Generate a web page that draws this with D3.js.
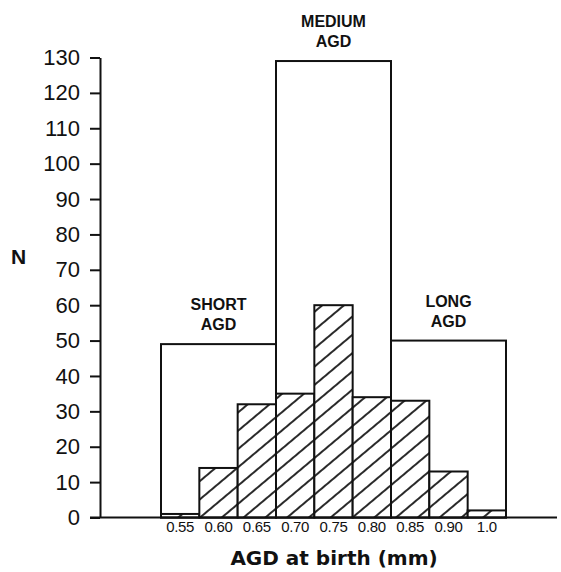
<!DOCTYPE html>
<html>
<head>
<meta charset="utf-8">
<script src="https://cdn.jsdelivr.net/npm/d3@7"></script>
<style>
body { margin: 0; background: #fff; }
text { font-family: "Liberation Sans", Arial, sans-serif; fill: #111; }
</style>
</head>
<body>
<script>
var w = 561, h = 572;

// bins of AGD at birth (mm) and number of animals
var bins = ["0.55", "0.60", "0.65", "0.70", "0.75", "0.80", "0.85", "0.90", "1.0"];
var counts = [1, 14, 32, 35, 60, 34, 33, 13, 2];

// groups: first bin, last bin, total
var groupNames = ["SHORT", "MEDIUM", "LONG"];
var groupFirst = ["0.55", "0.70", "0.85"];
var groupLast = ["0.65", "0.80", "1.0"];
var groupTotals = [49, 129, 50];

var yTicks = d3.range(0, 131, 10);

var svg = d3.select("body").append("svg")
	.attr("width", w)
	.attr("height", h);

var defs = svg.append("defs");
var pat = defs.append("pattern")
	.attr("id", "hatch")
	.attr("patternUnits", "userSpaceOnUse")
	.attr("width", 14)
	.attr("height", 14)
	.attr("patternTransform", "rotate(-40)");
pat.append("rect").attr("width", 14).attr("height", 14).attr("fill", "#fff");
pat.append("line")
	.attr("x1", 0).attr("y1", 7).attr("x2", 14).attr("y2", 7)
	.attr("stroke", "#111").attr("stroke-width", 1.8);

var x = d3.scaleBand()
	.domain(bins)
	.range([161, 506])
	.padding(0);

var y = d3.scaleLinear()
	.domain([0, 130])
	.range([517.5, 57.5]);

function groupMid(i) {
	return x(groupFirst[i]) + (x(groupLast[i]) + x.bandwidth() - x(groupFirst[i])) / 2;
}

// group outlines
svg.selectAll(".grp")
	.data(groupNames)
	.enter()
	.append("rect")
	.attr("class", "grp")
	.attr("x", function(d, i) { return x(groupFirst[i]); })
	.attr("width", function(d, i) { return x(groupLast[i]) + x.bandwidth() - x(groupFirst[i]); })
	.attr("y", function(d, i) { return y(groupTotals[i]); })
	.attr("height", function(d, i) { return y(0) - y(groupTotals[i]); })
	.style("fill", "#fff")
	.style("stroke", "#111")
	.style("stroke-width", 2);

// hatched bars
svg.selectAll(".bar")
	.data(counts)
	.enter()
	.append("rect")
	.attr("class", "bar")
	.attr("x", function(d, i) { return x(bins[i]); })
	.attr("width", x.bandwidth())
	.attr("y", function(d) { return y(d); })
	.attr("height", function(d) { return y(0) - y(d); })
	.style("fill", "url(#hatch)")
	.style("stroke", "#111")
	.style("stroke-width", 2);

// group labels
var lab = svg.selectAll(".glab")
	.data(groupNames)
	.enter()
	.append("text")
	.attr("class", "glab")
	.attr("text-anchor", "middle")
	.style("font-weight", "bold")
	.style("font-size", "16px");
lab.append("tspan")
	.attr("x", function(d, i) { return groupMid(i); })
	.attr("y", function(d, i) { return y(groupTotals[i]) - 34; })
	.text(function(d) { return d; });
lab.append("tspan")
	.attr("x", function(d, i) { return groupMid(i); })
	.attr("y", function(d, i) { return y(groupTotals[i]) - 14; })
	.text("AGD");

// y axis
var yAxis = svg.append("g")
	.attr("transform", "translate(100,0)")
	.call(d3.axisLeft(y).tickValues(yTicks).tickSize(10).tickSizeOuter(0).tickPadding(10));
yAxis.selectAll("path, line").style("stroke", "#111").style("stroke-width", 2);
yAxis.selectAll("text")
	.style("font-size", "22px")
	.style("font-family", "'Liberation Sans', Arial, sans-serif")
	.style("fill", "#111");

// x baseline
svg.append("line")
	.attr("x1", 90).attr("x2", 557)
	.attr("y1", y(0)).attr("y2", y(0))
	.style("stroke", "#111")
	.style("stroke-width", 2);

var xAxis = svg.append("g")
	.attr("transform", "translate(0," + y(0) + ")")
	.call(d3.axisBottom(x).tickSize(0).tickPadding(4));
xAxis.select(".domain").remove();
xAxis.selectAll("text")
	.style("font-size", "15px")
	.style("letter-spacing", "-0.3px")
	.style("font-family", "'Liberation Sans', Arial, sans-serif")
	.style("fill", "#111");

svg.append("text")
	.attr("x", 334)
	.attr("y", 565)
	.attr("text-anchor", "middle")
	.style("font-family", "'DejaVu Sans', sans-serif")
	.style("font-weight", "bold")
	.style("font-size", "20px")
	.text("AGD at birth (mm)");

svg.append("text")
	.attr("x", 11)
	.attr("y", 264)
	.style("font-weight", "bold")
	.style("font-size", "21px")
	.text("N");
</script>
</body>
</html>
